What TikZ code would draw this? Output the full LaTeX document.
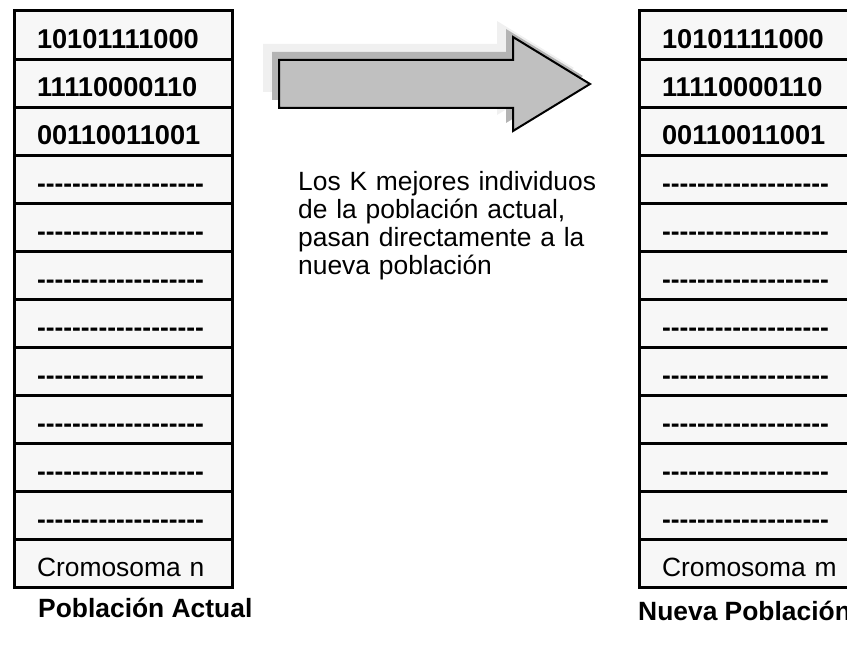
\documentclass[tikz,border=0pt]{standalone}
\usepackage{fontspec}
\setmainfont{Liberation Sans}[Ligatures=TeXOff]
\usetikzlibrary{positioning}
\definecolor{cellgray}{HTML}{F7F7F7}
\definecolor{arrowgray}{HTML}{C0C0C0}
\definecolor{shadowmid}{HTML}{B4B4B4}
\definecolor{shadowlight}{HTML}{F0F0F0}

\begin{document}
\begin{tikzpicture}[
            x=1pt, y=-1pt,
            node distance=0pt,
            % --- estilos ---
            cell/.style={rectangle, draw, line width=3pt, fill=cellgray, outer sep=0pt,
                         text width=172pt, inner xsep=23pt, inner ysep=0pt, minimum height=48.08pt,
                         align=left, text height=26pt, text depth=0pt, font=\fontsize{26.4}{28}\selectfont},
            bits/.style={cell, font=\fontsize{27.2}{28}\selectfont\bfseries},
            empty/.style={cell, font=\fontsize{26.4}{28}\selectfont\bfseries},
            note/.style={inner sep=0pt, text width=300pt, align=left, font=\fontsize{26.4}{28}\selectfont},
            caption/.style={inner sep=0pt, font=\fontsize{26.4}{28}\selectfont\bfseries},
            bigarrow/.style={draw=black, line width=2pt, fill=arrowgray, line join=miter}
        ]
        \useasboundingbox (0,0) rectangle (847,652);
        \clip (0,0) rectangle (847,652);

        % --- poblacion actual ---
        \node[bits, anchor=north west] (act1) at (14,11) {10101111000};
        \node[bits, below=of act1] (act2) {11110000110};
        \node[bits, below=of act2] (act3) {00110011001};
        \node[empty, below=of act3] (act4) {\mbox{-------------------}};
        \node[empty, below=of act4] (act5) {\mbox{-------------------}};
        \node[empty, below=of act5] (act6) {\mbox{-------------------}};
        \node[empty, below=of act6] (act7) {\mbox{-------------------}};
        \node[empty, below=of act7] (act8) {\mbox{-------------------}};
        \node[empty, below=of act8] (act9) {\mbox{-------------------}};
        \node[empty, below=of act9] (act10) {\mbox{-------------------}};
        \node[empty, below=of act10] (act11) {\mbox{-------------------}};
        \node[cell, below=of act11] (act12) {\mbox{Cromosoma n}};
        \node[caption, anchor=base west] (actcap) at (38,617) {Población Actual};

        % --- nueva poblacion ---
        \node[bits, anchor=north west] (new1) at (639,11) {10101111000};
        \node[bits, below=of new1] (new2) {11110000110};
        \node[bits, below=of new2] (new3) {00110011001};
        \node[empty, below=of new3] (new4) {\mbox{-------------------}};
        \node[empty, below=of new4] (new5) {\mbox{-------------------}};
        \node[empty, below=of new5] (new6) {\mbox{-------------------}};
        \node[empty, below=of new6] (new7) {\mbox{-------------------}};
        \node[empty, below=of new7] (new8) {\mbox{-------------------}};
        \node[empty, below=of new8] (new9) {\mbox{-------------------}};
        \node[empty, below=of new9] (new10) {\mbox{-------------------}};
        \node[empty, below=of new10] (new11) {\mbox{-------------------}};
        \node[cell, below=of new11] (new12) {\mbox{Cromosoma m}};
        \node[caption, anchor=base west] (newcap) at (638,620) {Nueva Población};

        % --- flecha con sombra ---
        \coordinate (tail) at (279,60);
        \fill[shadowlight] ([shift={(-16,-16)}]tail) -- ++(234,0) -- ++(0,-23) -- ++(77,47)
              -- ++(-77,47) -- ++(0,-23) -- ++(-234,0) -- cycle;
        \fill[shadowmid] ([shift={(-7,-8)}]tail) -- ++(234,0) -- ++(0,-23) -- ++(77,47)
              -- ++(-77,47) -- ++(0,-23) -- ++(-234,0) -- cycle;
        \path[bigarrow] (tail) -- ++(234,0) -- ++(0,-23) -- ++(77,47)
              -- ++(-77,47) -- ++(0,-23) -- ++(-234,0) -- cycle;

        % texto
        \node[note, anchor=north west] (elite) at (298,171) {Los K mejores individuos\\de la población actual,\\pasan directamente a la\\nueva población};

\end{tikzpicture}
\end{document}
